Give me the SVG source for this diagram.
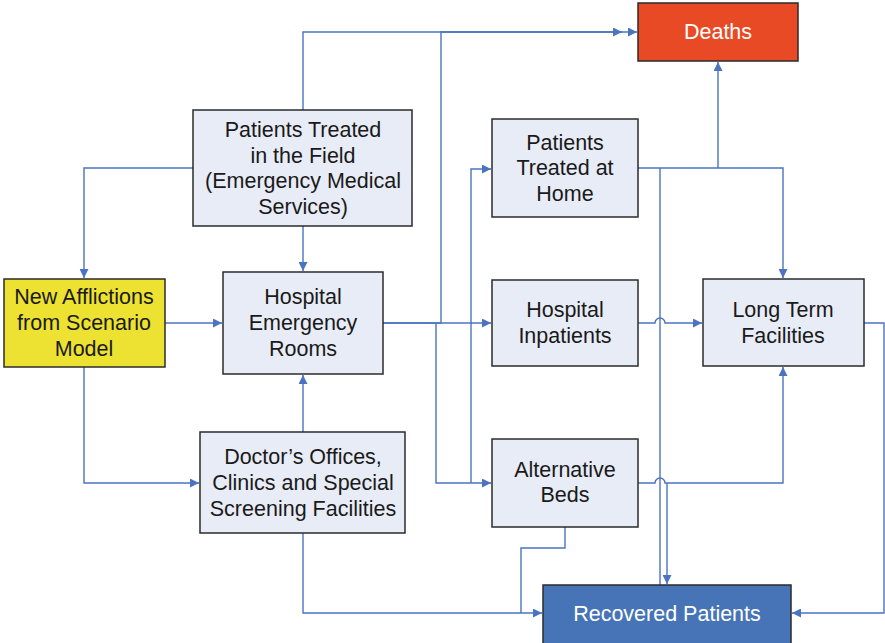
<svg xmlns="http://www.w3.org/2000/svg" width="885" height="643" viewBox="0 0 885 643">
<defs>
<marker id="ar" viewBox="0 0 10 10" refX="10" refY="5" markerWidth="9" markerHeight="9" markerUnits="userSpaceOnUse" orient="auto">
<path d="M0,0 L10,5 L0,10 z" fill="#4A74C0"/>
</marker>
</defs>
<style>
.n rect{fill:#E8ECF7;stroke:#2b2b2b;stroke-width:1.5}
.n text{font-family:"Liberation Sans",Arial,sans-serif;font-size:21.5px;fill:#1a1a1a;text-anchor:middle}
#edges path{fill:none;stroke:#4A74C0;stroke-width:1.4}
#edges .a{marker-end:url(#ar)}
</style>
<rect width="885" height="643" fill="#fff"/>
<g id="edges">
<path class="a" d="M303,110 V32 H622"/>
<path class="a" d="M383,323 H441 V32 H637"/>
<path class="a" d="M193,168 H84 V278"/>
<path class="a" d="M303,226 V271"/>
<path class="a" d="M165,323 H222"/>
<path class="a" d="M84,367 V483 H199"/>
<path class="a" d="M303,432 V375"/>
<path class="a" d="M303,533 V613 H542"/>
<path class="a" d="M383,323 H491"/>
<path class="a" d="M471,323 V169 H491"/>
<path class="a" d="M436,323 V483 H491"/>
<path d="M471,323 V483"/>
<path class="a" d="M638,168 H783 V278"/>
<path class="a" d="M718,168 V62"/>
<path d="M660,168 V585"/>
<path class="a" d="M638,323 H655 A5,5 0 0 1 665,323 H702"/>
<path class="a" d="M638,483 H655 A5,5 0 0 1 665,483 H783 V367"/>
<path class="a" d="M667,483 V584"/>
<path d="M565,527 V548 H521 V613"/>
<path class="a" d="M864,323 H884 V613 H792"/>
</g>
<g id="deaths"><rect x="638" y="3" width="160" height="58" fill="#E84A25" stroke="#2b2b2b" stroke-width="1.5"/><text x="718" y="39" font-family="Liberation Sans,Arial,sans-serif" font-size="21.5" fill="#fff" text-anchor="middle">Deaths</text></g>
<g id="field" class="n"><rect x="193" y="110" width="219" height="116"/><text x="303" y="137">Patients Treated</text><text x="303" y="163">in the Field</text><text x="303" y="188">(Emergency Medical</text><text x="303" y="214">Services)</text></g>
<g id="new"><rect x="4" y="279" width="161" height="88" fill="#EDE231" stroke="#2b2b2b" stroke-width="1.5"/><text font-family="Liberation Sans,Arial,sans-serif" font-size="21.5" fill="#1a1a1a" text-anchor="middle"><tspan x="84" y="304">New Afflictions</tspan><tspan x="84" y="330">from Scenario</tspan><tspan x="84" y="356">Model</tspan></text></g>
<g id="er" class="n"><rect x="223" y="272" width="160" height="102"/><text x="303" y="304">Hospital</text><text x="303" y="330">Emergency</text><text x="303" y="356">Rooms</text></g>
<g id="doctor" class="n"><rect x="200" y="432" width="205" height="101"/><text x="303" y="464">Doctor’s Offices,</text><text x="303" y="490">Clinics and Special</text><text x="303" y="516">Screening Facilities</text></g>
<g id="home" class="n"><rect x="492" y="119" width="146" height="98"/><text x="565" y="150">Patients</text><text x="565" y="175">Treated at</text><text x="565" y="201">Home</text></g>
<g id="inpatients" class="n"><rect x="492" y="280" width="146" height="86"/><text x="565" y="317">Hospital</text><text x="565" y="343">Inpatients</text></g>
<g id="alt" class="n"><rect x="492" y="439" width="146" height="88"/><text x="565" y="477">Alternative</text><text x="565" y="502">Beds</text></g>
<g id="ltf" class="n"><rect x="703" y="279" width="161" height="87"/><text x="783" y="317">Long Term</text><text x="783" y="343">Facilities</text></g>
<g id="recovered"><rect x="543" y="585" width="248" height="62" fill="#4674B7" stroke="#2b2b2b" stroke-width="1.5"/><text x="667" y="621" font-family="Liberation Sans,Arial,sans-serif" font-size="21.5" fill="#fff" text-anchor="middle">Recovered Patients</text></g>
</svg>
